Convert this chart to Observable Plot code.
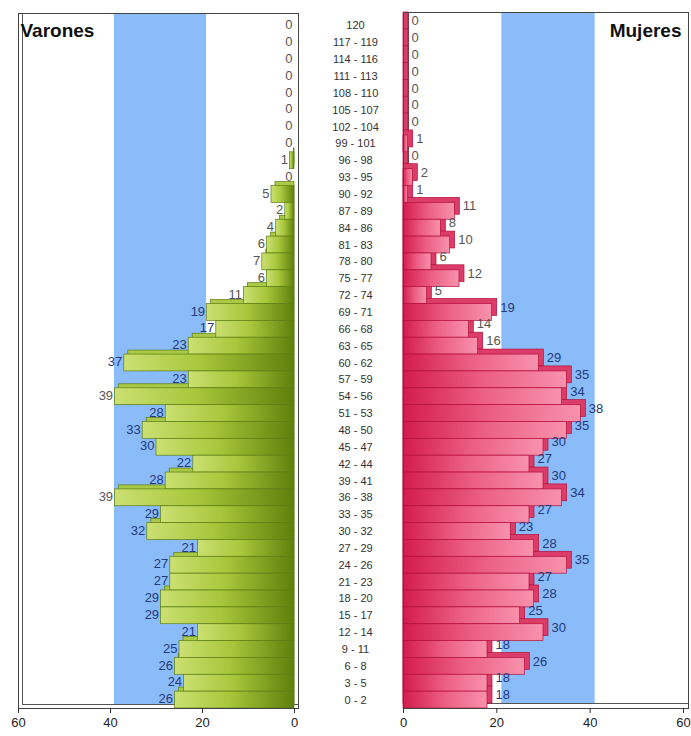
<!DOCTYPE html>
<html>
<head>
<meta charset="utf-8">
<script src="https://cdn.jsdelivr.net/npm/d3@7"></script>
<script src="https://cdn.jsdelivr.net/npm/@observablehq/plot@0.6"></script>
<style>
  body { margin: 0; background: white; }
  #chart { position: relative; width: 691px; height: 736px; overflow: hidden; }
  #chart svg { position: absolute; top: 0; }
</style>
</head>
<body>
<div id="chart"></div>
<script>
const ages = ["120","117 - 119","114 - 116","111 - 113","108 - 110","105 - 107","102 - 104","99 - 101","96 - 98","93 - 95","90 - 92","87 - 89","84 - 86","81 - 83","78 - 80","75 - 77","72 - 74","69 - 71","66 - 68","63 - 65","60 - 62","57 - 59","54 - 56","51 - 53","48 - 50","45 - 47","42 - 44","39 - 41","36 - 38","33 - 35","30 - 32","27 - 29","24 - 26","21 - 23","18 - 20","15 - 17","12 - 14","9 - 11","6 - 8","3 - 5","0 - 2"];
const varones = [0,0,0,0,0,0,0,0,1,0,5,2,4,6,7,6,11,19,17,23,37,23,39,28,33,30,22,28,39,29,32,21,27,27,29,29,21,25,26,24,26];
const mujeres = [0,0,0,0,0,0,0,1,0,2,1,11,8,10,6,12,5,19,14,16,29,35,34,38,35,30,27,30,34,27,23,28,35,27,28,25,30,18,26,18,18];
const xTicks = [0, 20, 40, 60];
const band = [[20, 40]];
const titles = ["Varones", "Mujeres"];

const dataV = ages.map((age, i) => ({age, v: varones[i]}));
const dataM = ages.map((age, i) => ({age, v: mujeres[i]}));

const font = "'Liberation Sans', Arial, sans-serif";
const navy = "#23397a", gray = "#555";
const labelColor = d => (d.v + 2 >= 19 && d.v + 2 <= 40) ? navy : gray;

const common = {
  height: 736, marginTop: 17, marginBottom: 28,
  y: {domain: ages, axis: null, padding: 0},
  color: {type: "identity"},
  style: {background: "transparent", overflow: "visible", fontFamily: font}
};

const left = Plot.plot({
  ...common,
  width: 395, marginLeft: 18, marginRight: 101,
  x: {domain: [0, 60], reverse: true, axis: null, label: null},
  marks: [
    Plot.frame({dx: 4, dy: -4, fill: "white", stroke: "none"}),
    Plot.rect(band, {x1: d => d[0], x2: d => d[1], dx: 4, dy: -4, fill: "#8bbcfa"}),
    Plot.frame({dx: 4, dy: -4, stroke: "#555"}),
    Plot.barX(dataV, {x: "v", y: "age", dx: 4, dy: -4, insetRight: 4, fill: "#a9c947", stroke: "#5d7d12", strokeWidth: 0.7}),
    Plot.barX(dataV, {x: "v", y: "age", fill: "url(#gradG)", stroke: "#5d7d12", strokeWidth: 0.7}),
    Plot.frame({insetTop: -4, insetRight: -4, stroke: "#444"}),
    Plot.axisX({ticks: xTicks, tickSize: 5, tickPadding: 4, fontSize: 13, fill: "#222", stroke: "#333", label: null}),
    Plot.text(dataV, {x: "v", y: "age", text: d => String(d.v), textAnchor: "end", dx: -2, dy: -1, fontSize: 13, fill: labelColor}),
    Plot.text(dataV, {y: "age", text: "age", frameAnchor: "right", dx: 61, textAnchor: "middle", fontSize: 11, fill: "#333"}),
    Plot.text([titles[0]], {frameAnchor: "top-left", dx: 2, dy: 6, lineAnchor: "top", textAnchor: "start", fontSize: 19, fontWeight: "bold", fill: "#111"})
  ]
});

const right = Plot.plot({
  ...common,
  width: 296, marginLeft: 8, marginRight: 8,
  x: {domain: [0, 60], axis: null, label: null},
  marks: [
    Plot.frame({dx: 5, dy: -5, fill: "white", stroke: "none"}),
    Plot.rect(band, {x1: d => d[0], x2: d => d[1], dx: 5, dy: -5, fill: "#8bbcfa"}),
    Plot.frame({dx: 5, dy: -5, stroke: "#555"}),
    Plot.barX(dataM, {x: "v", y: "age", dx: 5, dy: -5, insetLeft: -5, fill: "#dc3d68", stroke: "#b3103c", strokeWidth: 0.7}),
    Plot.barX(dataM, {x: "v", y: "age", fill: "url(#gradP)", stroke: "#b3103c", strokeWidth: 0.7}),
    Plot.frame({insetTop: -5, insetRight: -5, stroke: "#444"}),
    Plot.axisX({ticks: xTicks, tickSize: 5, tickPadding: 4, fontSize: 13, fill: "#222", stroke: "#333", label: null}),
    Plot.text(dataM, {x: "v", y: "age", text: d => String(d.v), textAnchor: "start", dx: 8, dy: -5, fontSize: 13, fill: labelColor}),
    Plot.text([titles[1]], {frameAnchor: "top-right", dx: -2, dy: 6, lineAnchor: "top", textAnchor: "end", fontSize: 19, fontWeight: "bold", fill: "#111"})
  ]
});

d3.select(left).insert("defs", ":first-child").html(
  `<linearGradient id="gradG" x1="0" x2="1" y1="0" y2="0">
     <stop offset="0" stop-color="#cbe072"/>
     <stop offset="0.45" stop-color="#a8c73c"/>
     <stop offset="1" stop-color="#5e800c"/>
   </linearGradient>`);
d3.select(right).insert("defs", ":first-child").html(
  `<linearGradient id="gradP" x1="0" x2="1" y1="0" y2="0">
     <stop offset="0" stop-color="#d31c4c"/>
     <stop offset="0.5" stop-color="#ec5f84"/>
     <stop offset="1" stop-color="#f892ac"/>
   </linearGradient>`);

left.style.left = "0px";
right.style.left = "395px";
document.getElementById("chart").append(left, right);
</script>
</body>
</html>
